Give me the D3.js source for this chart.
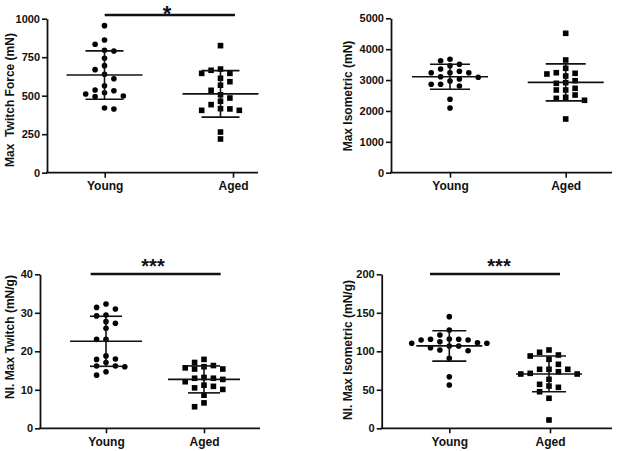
<!DOCTYPE html>
<html><head><meta charset="utf-8">
<script src="https://cdn.jsdelivr.net/npm/d3@7"></script>
<style>
body{margin:0;background:#fff}
text{font-family:"Liberation Sans",Arial,Helvetica,sans-serif;font-weight:bold;fill:#111}
</style>
</head><body><svg id="c" width="625" height="451"></svg>
<script>
// ---------- data ----------
const categories = ["Young", "Aged"];

const twitchYoung = [955, 862, 834, 795, 790, 743, 695, 669, 639, 610, 565, 537, 519, 498, 494, 511, 532, 414, 420];
const twitchAged  = [825, 665, 645, 645, 673, 613, 591, 568, 535, 506, 485, 464, 416, 405, 405, 414, 442, 264, 219];
const twitchMean  = [634, 512];
const twitchSD    = [157, 151];
const twitchTicks = [0, 250, 500, 750, 1000];

const isoYoung = [3672, 3627, 3510, 3465, 3358, 3284, 3238, 3238, 3238, 3109, 3089, 3034, 2970, 2863, 2863, 2808, 2377, 2095];
const isoAged  = [4514, 3650, 3381, 3238, 3196, 3219, 3131, 2895, 2915, 2979, 2733, 2678, 2516, 2678, 2409, 2345, 2442, 1739];
const isoMean  = [3108, 2925];
const isoSD    = [404, 598];
const isoTicks = [0, 1000, 2000, 3000, 4000, 5000];

const nTwitchYoung = [32.3, 31.4, 31.0, 29.4, 29.2, 27.7, 27.3, 26.0, 23.1, 23.1, 18.8, 18.0, 17.9, 17.1, 16.2, 16.2, 16.0, 14.7, 13.8];
const nTwitchAged  = [17.1, 17.9, 16.0, 15.4, 15.4, 15.7, 16.3, 13.0, 12.7, 13.0, 13.2, 12.1, 10.9, 11.2, 10.1, 10.5, 8.6, 6.6, 5.6];
const nTwitchMean  = [22.6, 12.7];
const nTwitchSD    = [6.5, 3.5];
const nTwitchTicks = [0, 10, 20, 30, 40];

const nIsoYoung = [145, 127.7, 121.2, 116, 115.6, 114.7, 112.5, 110.4, 106.9, 106.9, 104.7, 100.8, 101.7, 110.4, 111.2, 114.7, 115.6, 90.9, 67, 56.2];
const nIsoAged  = [101.7, 98.7, 93.9, 95.2, 89.6, 83.1, 76.6, 76.6, 76.6, 73.5, 70.5, 70.5, 71.4, 63.6, 57.1, 53.2, 54.9, 47.5, 39, 10.8];
const nIsoMean  = [107, 70.6];
const nIsoSD    = [19.7, 23.2];
const nIsoTicks = [0, 50, 100, 150, 200];

const titles = ["Max  Twitch Force (mN)", "Max Isometric (mN)", "Nl. Max Twitch (mN/g)", "Nl. Max Isometric (mN/g)"];
const sigLabels = ["*", "", "***", "***"];

// ---------- layout ----------
const panels = [
  {groups:[twitchYoung, twitchAged], mean:twitchMean, sd:twitchSD, ticks:twitchTicks, title:titles[0], sig:sigLabels[0],
   L:47, R:258, T:18.7, B:172.7, tickX:[104.7, 233], dataX:[104.5, 220.5], titleX:14, titleY:100,
   meanHW:38, capHW:19, sigBar:[104.7, 235, 15], sigText:[167, 21], sigFS:22},
  {groups:[isoYoung, isoAged], mean:isoMean, sd:isoSD, ticks:isoTicks, title:titles[1], sig:sigLabels[1],
   L:391, R:612, T:18.3, B:172.7, tickX:[450, 565.7], dataX:[450, 565.7], titleX:352, titleY:96,
   meanHW:38, capHW:20},
  {groups:[nTwitchYoung, nTwitchAged], mean:nTwitchMean, sd:nTwitchSD, ticks:nTwitchTicks, title:titles[2], sig:sigLabels[2],
   L:40, R:260, T:274.3, B:428.3, tickX:[106, 204], dataX:[106, 204], titleX:14, titleY:337,
   meanHW:36, capHW:16, sigBar:[90.7, 220.7, 274], sigText:[153, 273], sigFS:20},
  {groups:[nIsoYoung, nIsoAged], mean:nIsoMean, sd:nIsoSD, ticks:nIsoTicks, title:titles[3], sig:sigLabels[3],
   L:381.7, R:612, T:274.3, B:428.3, tickX:[449.3, 550], dataX:[449.3, 549], titleX:352, titleY:350,
   meanHW:33, capHW:17, sigBar:[430, 560, 274], sigText:[499, 273], sigFS:20}
];

const svg = d3.select("#c");
const DOT = 5.6, STEP = 4.7, EX = 9, EY = 6.3;

// Prism-like scatter: greedy placement on a half-dot grid
function swarm(vals, y, cx) {
  const pts = vals.map(v => ({v, py: y(v)})).sort((a, b) => b.v - a.v);
  const placed = [];
  let side = -1;
  pts.forEach(p => {
    for (let k = 0; k < 30; k++) {
      const cands = k === 0 ? [0] : [side * k, -side * k];
      let ok = null;
      for (const c of cands) {
        const x = cx + c * STEP;
        if (placed.every(q => Math.abs(q.px - x) >= EX || Math.abs(q.py - p.py) >= EY)) { ok = x; break; }
      }
      if (ok !== null) { p.px = ok; if (ok !== cx) side = -side; break; }
    }
    placed.push(p);
  });
  return placed;
}

panels.forEach(P => {
  const g = svg.append("g");
  const y = d3.scaleLinear().domain([0, d3.max(P.ticks)]).range([P.B, P.T]);
  const xTick = d3.scaleOrdinal().domain(categories).range(P.tickX);
  const xData = d3.scaleOrdinal().domain(categories).range(P.dataX);

  // y axis
  const ya = g.append("g").attr("transform", `translate(${P.L},0)`)
    .call(d3.axisLeft(y).tickValues(P.ticks).tickSize(5).tickSizeOuter(0).tickPadding(2).tickFormat(d3.format("d")));
  ya.select(".domain").attr("stroke", "#111").attr("stroke-width", 1.8);
  ya.selectAll(".tick line").attr("stroke", "#111").attr("stroke-width", 1.6);
  ya.selectAll(".tick text").attr("font-size", 11).attr("font-family", null).style("fill", "#111");

  // x axis
  const xa = g.append("g").attr("transform", `translate(0,${P.B})`)
    .call(d3.axisBottom(xTick).tickSize(5).tickSizeOuter(0).tickPadding(4));
  xa.select(".domain").remove();
  xa.selectAll(".tick line").attr("stroke", "#111").attr("stroke-width", 1.6);
  xa.selectAll(".tick text").attr("font-size", 12).attr("font-family", null).style("fill", "#111");
  g.append("line").attr("x1", P.L - 0.9).attr("x2", P.R).attr("y1", P.B).attr("y2", P.B)
    .attr("stroke", "#111").attr("stroke-width", 1.8);

  // title
  g.append("text").attr("transform", `translate(${P.titleX},${P.titleY}) rotate(-90)`)
    .attr("text-anchor", "middle").attr("font-size", 12).style("white-space", "pre").text(P.title);

  // points
  P.groups.forEach((vals, gi) => {
    const cx = xData(categories[gi]);
    const pts = swarm(vals, y, cx);
    if (gi === 0) {
      g.selectAll(null).data(pts).enter().append("circle")
        .attr("cx", d => d.px).attr("cy", d => d.py).attr("r", DOT / 2).attr("fill", "#000");
    } else {
      g.selectAll(null).data(pts).enter().append("rect")
        .attr("x", d => d.px - DOT / 2).attr("y", d => d.py - DOT / 2)
        .attr("width", DOT).attr("height", DOT).attr("fill", "#000");
    }
    // mean and SD
    const m = P.mean[gi], s = P.sd[gi];
    const eb = g.append("g").attr("stroke", "#111").attr("stroke-width", 1.6);
    eb.append("line").attr("x1", cx - P.meanHW).attr("x2", cx + P.meanHW).attr("y1", y(m)).attr("y2", y(m));
    eb.append("line").attr("x1", cx).attr("x2", cx).attr("y1", y(m + s)).attr("y2", y(m - s));
    [m + s, m - s].forEach(v => eb.append("line").attr("x1", cx - P.capHW).attr("x2", cx + P.capHW)
      .attr("y1", y(v)).attr("y2", y(v)));
  });

  // significance
  if (P.sig) {
    g.append("line").attr("x1", P.sigBar[0]).attr("x2", P.sigBar[1]).attr("y1", P.sigBar[2]).attr("y2", P.sigBar[2])
      .attr("stroke", "#111").attr("stroke-width", 2.6);
    g.append("text").attr("x", P.sigText[0]).attr("y", P.sigText[1]).attr("text-anchor", "middle")
      .attr("font-size", P.sigFS).text(P.sig);
  }
});
</script></body></html>
